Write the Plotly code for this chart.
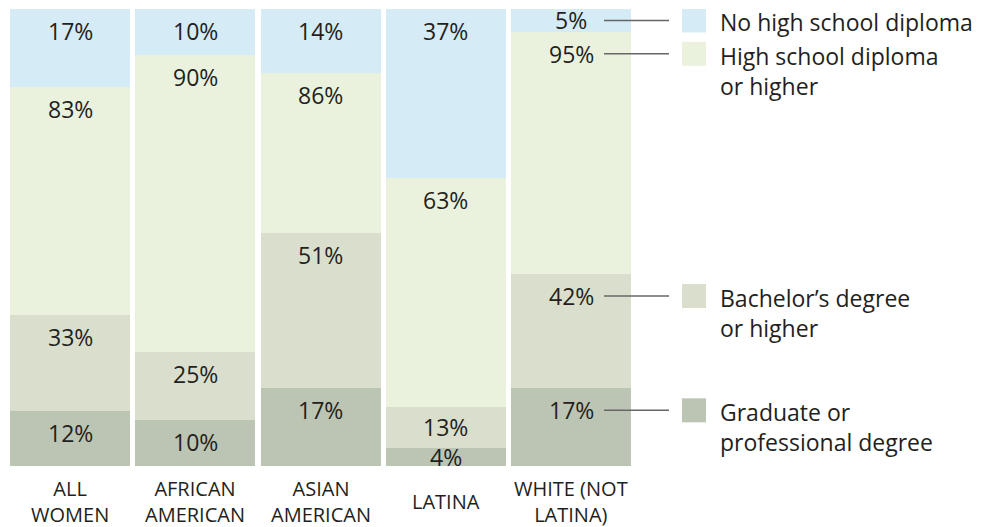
import plotly.graph_objects as go

categories = ["ALL<br>WOMEN", "AFRICAN<br>AMERICAN", "ASIAN<br>AMERICAN", "LATINA", "WHITE (NOT<br>LATINA)"]
no_hs = [17, 10, 14, 37, 5]
hs_or_higher = [83, 90, 86, 63, 95]
bachelors_or_higher = [33, 25, 51, 13, 42]
graduate = [12, 10, 17, 4, 17]

legend_labels = [
    "No high school diploma",
    "High school diploma<br>or higher",
    "Bachelor’s degree<br>or higher",
    "Graduate or<br>professional degree",
]
colors = ["#d5ebf6", "#eaf2de", "#d9dfcc", "#bcc5b3"]

TEXT = "#231f20"
FONT = "Open Sans"
W, H = 1006, 527
M_T, M_B = 9, 61
PX_PER_UNIT = (H - M_T - M_B) / 100.0
PERIOD = 125.25
X0PX = 70
x = list(range(len(categories)))

segs = []
n = len(categories)
segs.append(([graduate[i] for i in range(n)], [0] * n, [graduate[i] for i in range(n)]))
segs.append((bachelors_or_higher, graduate, [bachelors_or_higher[i] - graduate[i] for i in range(n)]))
segs.append((hs_or_higher, bachelors_or_higher, [hs_or_higher[i] - bachelors_or_higher[i] for i in range(n)]))
segs.append((no_hs, hs_or_higher, [no_hs[i] for i in range(n)]))
seg_colors = [colors[3], colors[2], colors[1], colors[0]]
seg_names = [legend_labels[3], legend_labels[2], legend_labels[1], legend_labels[0]]

fig = go.Figure()
for (vals, base, hgt), col, name in zip(segs, seg_colors, seg_names):
    fig.add_trace(go.Bar(
        x=x, y=hgt, base=base, width=120 / PERIOD,
        marker=dict(color=col, line=dict(width=0)),
        name=name.replace("<br>", " "), showlegend=False, hoverinfo="skip",
    ))

annotations = []
shapes = []
label_pos = {}
for s, (vals, base, hgt) in enumerate(segs):
    for i in range(n):
        top = base[i] + hgt[i]
        if hgt[i] * PX_PER_UNIT < 44:
            ya, sh = base[i] + hgt[i] / 2.0, 0
        else:
            ya, sh = top, -22
        label_pos[(s, i)] = (ya, sh)
        annotations.append(dict(
            x=i, y=ya, xref="x", yref="y", yshift=sh,
            text=f"{vals[i]}%", showarrow=False, xanchor="center", yanchor="middle",
            font=dict(family=FONT, size=23, color=TEXT),
        ))

for i, c in enumerate(categories):
    annotations.append(dict(
        x=i, y=0, xref="x", yref="paper", yshift=-35,
        text=c, showarrow=False, xanchor="center", yanchor="middle",
        font=dict(family=FONT, size=20, color=TEXT),
    ))

last = n - 1
for s in range(4):
    ya, sh = label_pos[(s, last)]
    shapes.append(dict(
        type="line", xref="x", yref="y", xsizemode="pixel", ysizemode="pixel",
        xanchor=last, yanchor=ya, x0=33, x1=98, y0=sh, y1=sh,
        line=dict(color="#666666", width=1.5),
    ))
    shapes.append(dict(
        type="rect", xref="x", yref="y", xsizemode="pixel", ysizemode="pixel",
        xanchor=last, yanchor=ya, x0=111, x1=135, y0=sh - 12, y1=sh + 12,
        fillcolor=seg_colors[s], line=dict(width=0),
    ))
    annotations.append(dict(
        x=last, y=ya, xref="x", yref="y", xshift=147, yshift=sh + 16,
        text=seg_names[s], showarrow=False, xanchor="left", yanchor="top", align="left",
        font=dict(family=FONT, size=23, color=TEXT),
    ))

fig.update_layout(
    width=W, height=H,
    margin=dict(l=0, r=0, t=M_T, b=M_B, pad=0),
    paper_bgcolor="white", plot_bgcolor="white",
    barmode="overlay", bargap=0,
    xaxis=dict(range=[-X0PX / PERIOD, (W - X0PX) / PERIOD], visible=False, fixedrange=True),
    yaxis=dict(range=[0, 100], visible=False, fixedrange=True),
    annotations=annotations, shapes=shapes,
    showlegend=False,
)

fig.write_html("out.html", config={"displayModeBar": False})
